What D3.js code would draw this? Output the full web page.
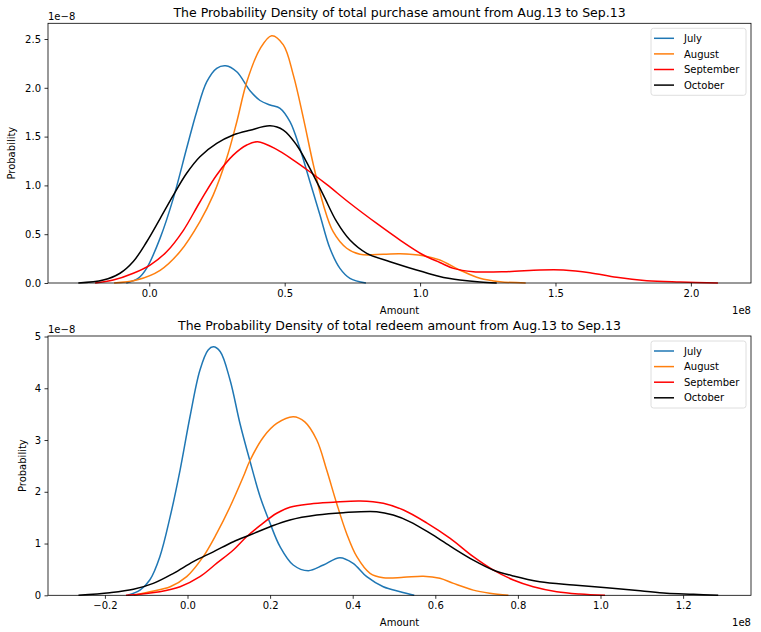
<!DOCTYPE html>
<html>
<head>
<meta charset="utf-8">
<script src="https://cdn.jsdelivr.net/npm/d3@7"></script>
<style>
  html, body { margin: 0; padding: 0; background: #fff; }
  text { font-family: "DejaVu Sans", sans-serif; }
</style>
</head>
<body>
<svg id="chart" width="761" height="632"></svg>
<script>
// ---------------- DATA (x in 1e8, y in 1e-8) ----------------
const seriesNames = ["July", "August", "September", "October"];
const seriesColors = ["#1f77b4", "#ff7f0e", "#ff0000", "#000000"];

const purchaseTitle = "The Probability Density of total purchase amount from Aug.13 to Sep.13";
const redeemTitle = "The Probability Density of total redeem amount from Aug.13 to Sep.13";

const purchaseXTicks = [0.0, 0.5, 1.0, 1.5, 2.0];
const purchaseYTicks = [0.0, 0.5, 1.0, 1.5, 2.0, 2.5];
const redeemXTicks = [-0.2, 0.0, 0.2, 0.4, 0.6, 0.8, 1.0, 1.2];
const redeemYTicks = [0, 1, 2, 3, 4, 5];

const purchaseJuly = [[-0.085,0],[-0.04,0.05],[-0.01,0.15],[0.04,0.46],[0.089,0.87],[0.138,1.38],[0.175,1.755],[0.212,2.06],[0.249,2.2],[0.282,2.226],[0.323,2.165],[0.372,1.97],[0.409,1.87],[0.446,1.824],[0.483,1.79],[0.52,1.65],[0.556,1.38],[0.593,1.04],[0.63,0.70],[0.667,0.356],[0.704,0.15],[0.741,0.048],[0.80,0.0]];
const purchaseAugust = [[-0.13,0],[-0.047,0.03],[0.04,0.13],[0.113,0.32],[0.187,0.63],[0.236,0.90],[0.286,1.28],[0.323,1.65],[0.36,2.06],[0.409,2.40],[0.452,2.534],[0.495,2.44],[0.532,2.13],[0.569,1.69],[0.606,1.21],[0.643,0.80],[0.679,0.526],[0.729,0.356],[0.778,0.294],[0.864,0.294],[0.926,0.30],[1.012,0.28],[1.073,0.236],[1.147,0.133],[1.221,0.048],[1.295,0.013],[1.39,0.0]];
const purchaseSeptember = [[-0.2,0],[-0.133,0.03],[-0.059,0.10],[0.003,0.184],[0.064,0.32],[0.126,0.54],[0.187,0.83],[0.249,1.107],[0.31,1.31],[0.36,1.414],[0.40,1.448],[0.47,1.37],[0.532,1.26],[0.593,1.14],[0.655,1.01],[0.741,0.817],[0.84,0.61],[0.926,0.44],[1.012,0.287],[1.073,0.21],[1.123,0.15],[1.196,0.116],[1.32,0.116],[1.443,0.133],[1.529,0.133],[1.627,0.106],[1.726,0.058],[1.837,0.024],[1.96,0.01],[2.10,0.0]];
const purchaseOctober = [[-0.262,0],[-0.17,0.03],[-0.108,0.10],[-0.059,0.22],[-0.01,0.42],[0.04,0.66],[0.089,0.90],[0.138,1.124],[0.187,1.294],[0.249,1.43],[0.31,1.516],[0.372,1.565],[0.446,1.61],[0.495,1.567],[0.544,1.414],[0.593,1.175],[0.643,0.90],[0.692,0.628],[0.741,0.44],[0.803,0.304],[0.889,0.218],[0.987,0.133],[1.061,0.075],[1.11,0.045],[1.147,0.03],[1.221,0.01],[1.283,0.0]];

const redeemJuly = [[-0.145,0],[-0.115,0.10],[-0.091,0.30],[-0.067,0.746],[-0.042,1.52],[-0.018,2.42],[0.006,3.45],[0.03,4.35],[0.05,4.74],[0.0625,4.80],[0.079,4.71],[0.103,4.16],[0.127,3.32],[0.151,2.6],[0.176,1.9],[0.2,1.39],[0.224,0.94],[0.256,0.585],[0.2925,0.475],[0.329,0.585],[0.369,0.727],[0.401,0.618],[0.434,0.36],[0.474,0.166],[0.515,0.07],[0.549,0.0]];
const redeemAugust = [[-0.13,0],[-0.091,0.07],[-0.042,0.166],[-0.002,0.36],[0.038,0.746],[0.071,1.20],[0.103,1.71],[0.135,2.29],[0.151,2.6],[0.184,3.06],[0.216,3.32],[0.256,3.45],[0.284,3.35],[0.313,3.0],[0.337,2.42],[0.361,1.78],[0.385,1.20],[0.41,0.746],[0.442,0.425],[0.474,0.34],[0.523,0.348],[0.571,0.37],[0.611,0.33],[0.644,0.23],[0.692,0.10],[0.732,0.04],[0.777,0.0]];
const redeemSeptember = [[-0.149,0],[-0.067,0.07],[-0.018,0.166],[0.03,0.36],[0.071,0.62],[0.111,0.875],[0.143,1.13],[0.176,1.35],[0.216,1.585],[0.248,1.70],[0.297,1.764],[0.353,1.797],[0.418,1.822],[0.474,1.778],[0.523,1.648],[0.579,1.40],[0.636,1.10],[0.692,0.746],[0.74,0.49],[0.789,0.296],[0.837,0.166],[0.894,0.07],[0.95,0.025],[1.011,0.0]];
const redeemOctober = [[-0.264,0],[-0.188,0.05],[-0.131,0.116],[-0.083,0.23],[-0.034,0.425],[0.014,0.65],[0.0625,0.84],[0.111,1.035],[0.151,1.165],[0.2,1.325],[0.248,1.455],[0.313,1.55],[0.377,1.596],[0.458,1.615],[0.498,1.55],[0.539,1.42],[0.587,1.20],[0.636,0.95],[0.692,0.68],[0.74,0.49],[0.789,0.373],[0.853,0.263],[0.934,0.2],[1.015,0.147],[1.096,0.089],[1.16,0.039],[1.225,0.02],[1.285,0.0]];

// ---------------- DRAW ----------------
const svg = d3.select("#chart");
svg.append("rect").attr("width", 761).attr("height", 632).attr("fill", "#fff");

function fmtMinus(s) { return s.replace("-", "\u2212"); }

function drawPanel(cfg) {
  const g = svg.append("g");
  const x = d3.scaleLinear().domain(cfg.xDomain).range([cfg.left, cfg.right]);
  const y = d3.scaleLinear().domain(cfg.yDomain).range([cfg.bottom, cfg.top]);

  // curves
  const line = d3.line().x(d => x(d[0])).y(d => y(Math.max(0, d[1]))).curve(d3.curveCatmullRom.alpha(0.5));
  cfg.series.forEach((s, i) => {
    g.append("path").datum(s).attr("d", line)
      .attr("fill", "none").attr("stroke", seriesColors[i])
      .attr("stroke-width", 1.5).attr("stroke-linejoin", "round").attr("stroke-linecap", "butt");
  });

  // axes
  const xAxis = d3.axisBottom(x).tickValues(cfg.xTicks).tickSize(3.5).tickPadding(3.5)
    .tickFormat(d => fmtMinus(cfg.xFmt(d)));
  const yAxis = d3.axisLeft(y).tickValues(cfg.yTicks).tickSize(3.5).tickPadding(3.5)
    .tickFormat(d => cfg.yFmt(d));
  const gx = g.append("g").attr("transform", `translate(0,${cfg.bottom})`).call(xAxis);
  const gy = g.append("g").attr("transform", `translate(${cfg.left},0)`).call(yAxis);
  [gx, gy].forEach(a => {
    a.select(".domain").remove();
    a.selectAll(".tick line").attr("stroke", "#000").attr("stroke-width", 0.8);
    a.selectAll(".tick text").attr("fill", "#000").style("font-size", "10px")
      .style("font-family", "'DejaVu Sans', sans-serif");
  });

  // frame
  g.append("rect").attr("x", cfg.left).attr("y", cfg.top)
    .attr("width", cfg.right - cfg.left).attr("height", cfg.bottom - cfg.top)
    .attr("fill", "none").attr("stroke", "#000").attr("stroke-width", 0.8);

  // title
  g.append("text").attr("x", (cfg.left + cfg.right) / 2).attr("y", cfg.top - 6.5)
    .attr("text-anchor", "middle").style("font-size", "12.5px").attr("fill", "#000").text(cfg.title);
  // offset texts
  g.append("text").attr("x", cfg.left).attr("y", cfg.top - 3.5)
    .style("font-size", "10px").attr("fill", "#000").text("1e\u22128");
  g.append("text").attr("x", cfg.right).attr("y", cfg.bottom + 30.5)
    .attr("text-anchor", "end").style("font-size", "10px").attr("fill", "#000").text("1e8");
  // axis labels
  g.append("text").attr("x", (cfg.left + cfg.right) / 2).attr("y", cfg.bottom + 30.5)
    .attr("text-anchor", "middle").style("font-size", "10px").attr("fill", "#000").text("Amount");
  g.append("text")
    .attr("transform", `translate(${cfg.ylabelX},${(cfg.top + cfg.bottom) / 2}) rotate(-90)`)
    .attr("text-anchor", "middle").style("font-size", "10px").attr("fill", "#000").text("Probability");

  // legend
  const lg = g.append("g");
  const lx = cfg.right - 100, ly = cfg.top + 5;
  lg.append("rect").attr("x", lx).attr("y", ly).attr("width", 95).attr("height", 67)
    .attr("rx", 2.5).attr("fill", "#fff").attr("fill-opacity", 0.8)
    .attr("stroke", "#d6d6d6").attr("stroke-width", 0.8);
  seriesNames.forEach((n, i) => {
    const yy = ly + 10 + i * 15.6;
    lg.append("line").attr("x1", lx + 3).attr("x2", lx + 23).attr("y1", yy).attr("y2", yy)
      .attr("stroke", seriesColors[i]).attr("stroke-width", 1.5);
    lg.append("text").attr("x", lx + 33).attr("y", yy + 3.6)
      .style("font-size", "10px").attr("fill", "#000").text(n);
  });
}

drawPanel({
  left: 48, right: 751, top: 23.3, bottom: 283,
  xDomain: [-0.374, 2.222], yDomain: [0, 2.661],
  xTicks: purchaseXTicks, yTicks: purchaseYTicks,
  xFmt: d3.format(".1f"), yFmt: d3.format(".1f"),
  series: [purchaseJuly, purchaseAugust, purchaseSeptember, purchaseOctober],
  title: purchaseTitle, ylabelX: 15
});

drawPanel({
  left: 48, right: 751, top: 336, bottom: 595.3,
  xDomain: [-0.3378, 1.3644], yDomain: [0, 5.01],
  xTicks: redeemXTicks, yTicks: redeemYTicks,
  xFmt: d3.format(".1f"), yFmt: d3.format("d"),
  series: [redeemJuly, redeemAugust, redeemSeptember, redeemOctober],
  title: redeemTitle, ylabelX: 26
});
</script>
</body>
</html>
